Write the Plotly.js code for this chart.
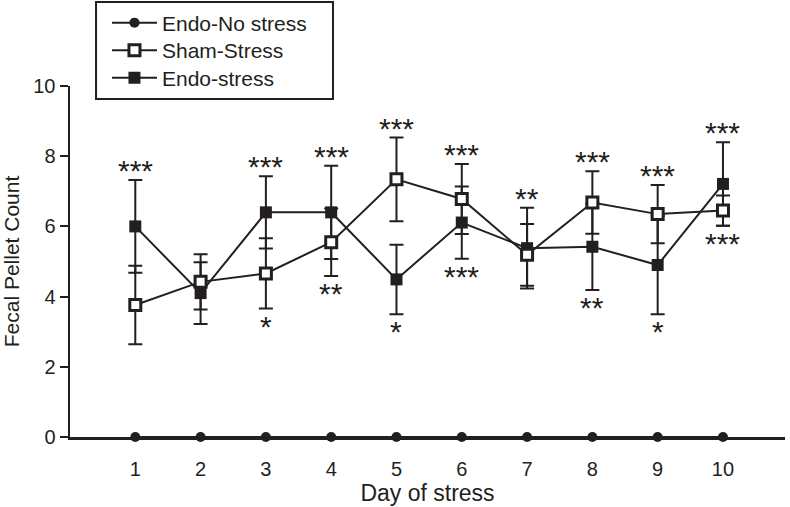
<!DOCTYPE html>
<html>
<head>
<meta charset="utf-8">
<script src="https://cdn.plot.ly/plotly-3.0.1.min.js"></script>
<style>html,body{margin:0;padding:0;background:#fff;}#chart{width:790px;height:507px;}</style>
</head>
<body>
<div id="chart"></div>
<script>
const days = [1, 2, 3, 4, 5, 6, 7, 8, 9, 10];
const endoNoStress = [0, 0, 0, 0, 0, 0, 0, 0, 0, 0];
const shamStress = [3.76, 4.42, 4.66, 5.55, 7.34, 6.78, 5.19, 6.68, 6.35, 6.45];
const shamErr = [1.12, 0.79, 1.0, 0.96, 1.19, 1.0, 0.88, 0.89, 0.83, 0.43];
const endoStress = [6.0, 4.1, 6.4, 6.4, 4.49, 6.11, 5.38, 5.42, 4.9, 7.21];
const endoErr = [1.32, 0.88, 1.03, 1.33, 0.99, 1.03, 1.15, 1.23, 1.4, 1.19];
const starsAbove = ['***', '', '***', '***', '***', '***', '**', '***', '***', '***'];
const starsBelow = ['', '', '*', '**', '*', '***', '', '**', '*', '***'];

const FONT = 'Liberation Sans, Arial, sans-serif';
const INK = '#231f20';

const traces = [
  {
    x: days, y: endoNoStress, name: 'Endo-No stress', type: 'scatter', mode: 'lines+markers',
    line: {color: INK, width: 2}, marker: {symbol: 'circle', size: 10, color: INK},
    cliponaxis: false, legend: 'legend'
  },
  {
    x: days, y: endoStress, name: 'Endo-stress', type: 'scatter', mode: 'lines+markers',
    line: {color: INK, width: 2}, marker: {symbol: 'square', size: 12, color: INK},
    error_y: {type: 'data', array: endoErr, visible: true, color: INK, thickness: 2, width: 7},
    cliponaxis: false, legend: 'legend3'
  },
  {
    x: days, y: shamStress, name: 'Sham-Stress', type: 'scatter', mode: 'lines+markers',
    line: {color: INK, width: 2},
    marker: {symbol: 'square', size: 11, color: '#ffffff', line: {color: INK, width: 3}},
    error_y: {type: 'data', array: shamErr, visible: true, color: INK, thickness: 2, width: 7},
    cliponaxis: false, legend: 'legend2'
  }
];

const annotations = [];
days.forEach((d, i) => {
  const top = Math.max(endoStress[i] + endoErr[i], shamStress[i] + shamErr[i]);
  const bot = Math.min(endoStress[i] - endoErr[i], shamStress[i] - shamErr[i]);
  if (starsAbove[i]) annotations.push({x: d, y: top, text: starsAbove[i], showarrow: false,
    xanchor: 'center', yanchor: 'bottom', yshift: -9, font: {family: FONT, size: 30, color: INK}});
  if (starsBelow[i]) annotations.push({x: d, y: bot, text: starsBelow[i], showarrow: false,
    xanchor: 'center', yanchor: 'top', yshift: 1, font: {family: FONT, size: 30, color: INK}});
});

function legendAt(yc) {
  return {
    x: 0.0517, y: yc, xanchor: 'left', yanchor: 'middle',
    borderwidth: 0, bgcolor: 'rgba(0,0,0,0)',
    font: {family: FONT, size: 21, color: INK}, itemwidth: 45
  };
}

const layout = {
  width: 790, height: 507,
  margin: {l: 70, r: 5, t: 86, b: 70, autoexpand: false},
  paper_bgcolor: '#ffffff', plot_bgcolor: '#ffffff',
  font: {family: FONT, color: INK, size: 20},
  showlegend: true,
  legend: legendAt(1.1795),
  legend2: legendAt(1.1011),
  legend3: legendAt(1.0228),
  shapes: [{
    type: 'rect', xref: 'paper', yref: 'paper',
    x0: 0.0364, x1: 0.3678, y0: 0.963, y1: 1.239,
    line: {color: INK, width: 2}, fillcolor: 'rgba(0,0,0,0)', layer: 'below'
  }],
  xaxis: {
    range: [0, 10.95], tickvals: days, ticktext: days.map(String),
    ticks: 'outside', ticklen: 12, tickcolor: 'rgba(0,0,0,0)',
    showline: true, linecolor: INK, linewidth: 3, showgrid: false, zeroline: false,
    tickfont: {family: FONT, size: 20, color: INK}, fixedrange: true, automargin: false,
    title: {text: 'Day of stress', font: {family: FONT, size: 23, color: INK}, standoff: 2}
  },
  yaxis: {
    range: [0, 10], tickvals: [0, 2, 4, 6, 8, 10], ticks: 'outside', ticklen: 8, tickwidth: 2,
    tickcolor: INK, showline: true, linecolor: INK, linewidth: 2.5, automargin: false,
    showgrid: false, zeroline: false, tickfont: {family: FONT, size: 20, color: INK}, fixedrange: true,
    title: {text: 'Fecal Pellet Count', font: {family: FONT, size: 21, color: INK}}
  },
  annotations: annotations
};

Plotly.newPlot('chart', traces, layout, {displayModeBar: false, staticPlot: true});
</script>
</body>
</html>
